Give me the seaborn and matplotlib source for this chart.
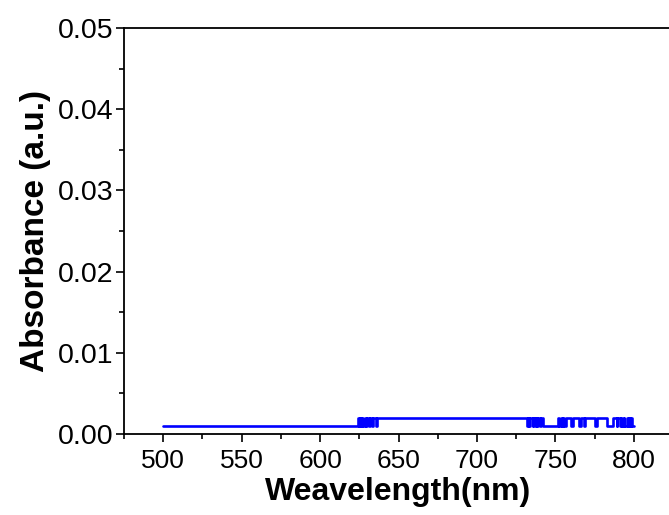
import matplotlib
matplotlib.use("Agg")
import matplotlib.pyplot as plt
from matplotlib.ticker import MultipleLocator, FormatStrFormatter
import seaborn as sns
import pandas as pd

# Step-wise absorbance record: wavelength where the reading changes, and the new reading
wavelength_nm = [500, 624, 624.5, 625.5, 626, 627, 627.5, 628.5, 629, 630, 631.5,
                 632, 633, 634, 635.5, 636, 637.5,
                 732, 732.5, 733.5, 734, 735.5, 736, 737, 737.5, 738.5, 739, 740,
                 741, 742,
                 752, 752.5, 753.5, 754, 755, 755.5, 756.5, 760, 761.5, 765, 766.5,
                 768, 769, 775, 776.5, 783, 787, 789, 789.5, 791, 792, 792.5, 793.5,
                 794, 795.5, 796, 797, 797.5, 798.5, 799, 800]
absorbance = [0.001, 0.002, 0.001, 0.002, 0.001, 0.002, 0.001, 0.002, 0.001, 0.002, 0.001,
              0.002, 0.001, 0.002, 0.001, 0.002, 0.002,
              0.001, 0.002, 0.001, 0.002, 0.001, 0.002, 0.001, 0.002, 0.001, 0.002, 0.001,
              0.002, 0.001,
              0.002, 0.001, 0.002, 0.001, 0.002, 0.001, 0.002, 0.001, 0.002, 0.001, 0.002,
              0.001, 0.002, 0.001, 0.002, 0.001, 0.002, 0.001, 0.002, 0.001, 0.002, 0.001,
              0.002, 0.001, 0.002, 0.001, 0.002, 0.001, 0.002, 0.001, 0.001]

x_ticks = [500, 550, 600, 650, 700, 750, 800]
y_ticks = [0.00, 0.01, 0.02, 0.03, 0.04, 0.05]

sns.set_style("ticks")
plt.rcParams["font.family"] = ["Liberation Sans", "DejaVu Sans"]

df = pd.DataFrame({"Wavelength": wavelength_nm, "Absorbance": absorbance})

fig = plt.figure(figsize=(6.69, 5.15), dpi=100)
ax = fig.add_axes([124 / 669, (515 - 434) / 515, (673 - 124) / 669, (434 - 28) / 515])

sns.lineplot(data=df, x="Wavelength", y="Absorbance", ax=ax, color="#0000ff",
             linewidth=1.9, drawstyle="steps-post", sort=False)

ax.set_xlim(475, 825)
ax.set_ylim(0, 0.05)
ax.set_xticks(x_ticks)
ax.set_yticks(y_ticks)
ax.xaxis.set_minor_locator(MultipleLocator(25))
ax.yaxis.set_minor_locator(MultipleLocator(0.005))
ax.yaxis.set_major_formatter(FormatStrFormatter("%.2f"))

for side in ["left", "bottom", "top", "right"]:
    ax.spines[side].set_linewidth(1.3)
    ax.spines[side].set_color("black")
    ax.spines[side].set_visible(True)

ax.tick_params(axis="both", which="major", direction="out", length=5.5, width=1.2,
               colors="black")
ax.tick_params(axis="x", which="major", labelsize=19, pad=5)
ax.tick_params(axis="y", which="major", labelsize=20.5, pad=2)
ax.tick_params(axis="both", which="minor", direction="out", length=3.5, width=1.2,
               colors="black")
ax.tick_params(top=False, right=False, which="both")

ax.set_xlabel("Weavelength(nm)", fontsize=23, fontweight="bold", labelpad=3,
              color="black")
ax.set_ylabel("Absorbance (a.u.)", fontsize=24, fontweight="bold", labelpad=5,
              color="black")

fig.savefig("out.png", dpi=100)
